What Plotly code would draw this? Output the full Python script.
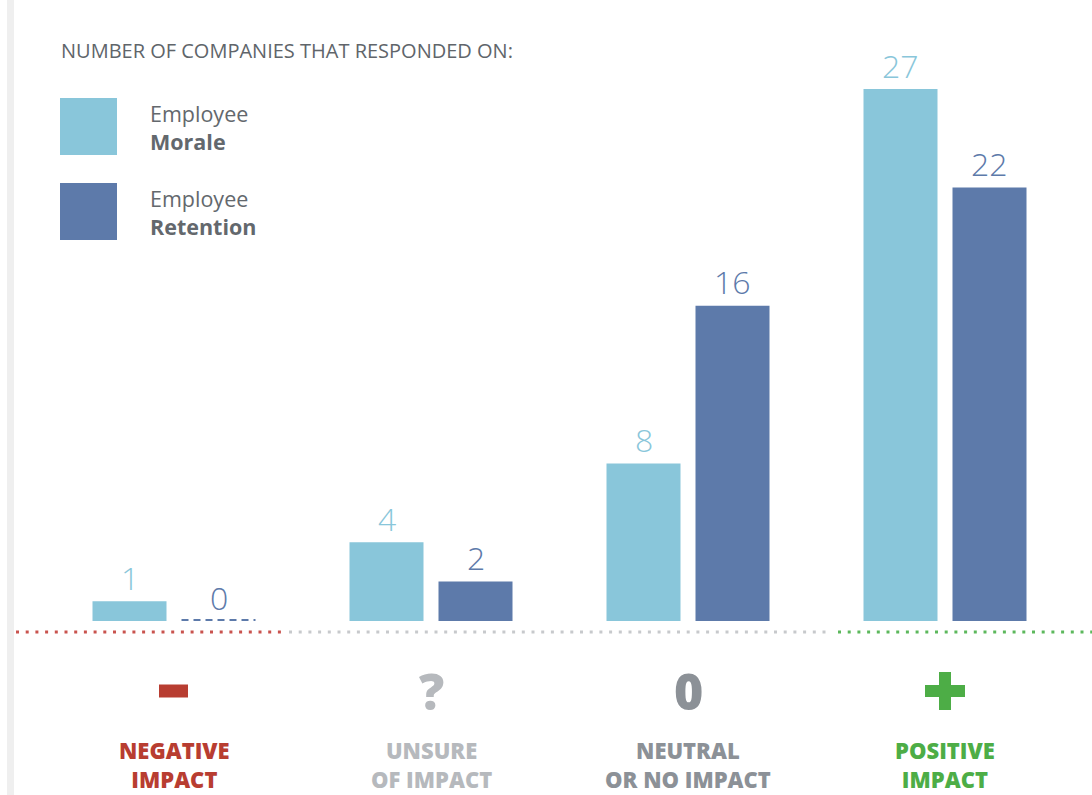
import plotly.graph_objects as go

# ---- data ----
categories = ["NEGATIVE IMPACT", "UNSURE OF IMPACT", "NEUTRAL OR NO IMPACT", "POSITIVE IMPACT"]
label_lines = [["NEGATIVE", "IMPACT"], ["UNSURE", "OF IMPACT"], ["NEUTRAL", "OR NO IMPACT"], ["POSITIVE", "IMPACT"]]
morale = [1, 4, 8, 27]
retention = [0, 2, 16, 22]
series_names = [("Employee", "Morale"), ("Employee", "Retention")]
title_text = "NUMBER OF COMPANIES THAT RESPONDED ON:"

# ---- styling ----
W, H = 1092, 795
MORALE_C = "#89c6da"
RETENTION_C = "#5d7aaa"
CAT_COLORS = ["#b83d31", "#b6b9bd", "#8c9197", "#4dad46"]
DOT_COLORS = ["#c9534e", "#c7c9cc", "#5cb85c"]
FONT = "Open Sans"

# pixel geometry helpers (layout is built on a pixel grid)
BASE_PX = 621.0        # row of the zero line
PX_PER_UNIT = 19.7     # pixels per company
FIRST_PX = 174.0       # centre of the first category group
STEP_PX = 257.0        # distance between category groups
BAR_PX = 74.0
GAP_PX = 15.0


def xd(px):
    return (px - FIRST_PX) / STEP_PX


def yd(py):
    return (BASE_PX - py) / PX_PER_UNIT


def yp(py):
    return 1 - py / H


def xp(px):
    return px / W


idx = list(range(len(categories)))
bw = BAR_PX / STEP_PX
off_m = -(BAR_PX + GAP_PX / 2) / STEP_PX
off_r = (GAP_PX / 2) / STEP_PX

fig = go.Figure()
fig.add_trace(go.Bar(x=idx, y=morale, width=bw, offset=off_m,
                     marker=dict(color=MORALE_C, line_width=0), name="Morale",
                     hoverinfo="skip"))
fig.add_trace(go.Bar(x=idx, y=retention, width=bw, offset=off_r,
                     marker=dict(color=RETENTION_C, line_width=0), name="Retention",
                     hoverinfo="skip"))

shapes = []
annotations = []

# value labels above the bars; zero values drawn as dashed stubs
for series, off, col in ((morale, off_m, MORALE_C), (retention, off_r, RETENTION_C)):
    for i, v in zip(idx, series):
        cx = i + off + bw / 2
        annotations.append(dict(x=cx, y=v, xref="x", yref="y", text=str(v),
                                showarrow=False, yanchor="middle", yshift=24,
                                font=dict(family=FONT, size=32, color=col, weight=300)))
        if v == 0:
            shapes.append(dict(type="line", xref="x", yref="y",
                               x0=i + off, x1=i + off + bw, y0=yd(620), y1=yd(620),
                               line=dict(color=col, width=2, dash="7px,5px")))

# light strip along the left edge
shapes.append(dict(type="rect", xref="paper", yref="paper", x0=xp(7), x1=xp(14), y0=0, y1=1,
                   fillcolor="#efefef", line_width=0, layer="below"))

# dotted base line in three colours
for (a, b), c in zip([(16, 282), (289, 830), (838, 1092)], DOT_COLORS):
    shapes.append(dict(type="line", xref="paper", yref="paper", x0=xp(a), x1=xp(b),
                       y0=yp(632), y1=yp(632),
                       line=dict(color=c, width=3, dash="3px,6.7px")))

# category icons
ICON_PY = 691
# minus
shapes.append(dict(type="rect", xref="x", yref="y", xsizemode="pixel", ysizemode="pixel",
                   xanchor=0, yanchor=yd(ICON_PY), x0=-15, x1=14, y0=-6.5, y1=6.5,
                   fillcolor=CAT_COLORS[0], line_width=0))
# plus
shapes.append(dict(type="rect", xref="x", yref="y", xsizemode="pixel", ysizemode="pixel",
                   xanchor=3, yanchor=yd(ICON_PY), x0=-20, x1=20, y0=-6, y1=6,
                   fillcolor=CAT_COLORS[3], line_width=0))
shapes.append(dict(type="rect", xref="x", yref="y", xsizemode="pixel", ysizemode="pixel",
                   xanchor=3, yanchor=yd(ICON_PY), x0=-6, x1=6, y0=-19, y1=19,
                   fillcolor=CAT_COLORS[3], line_width=0))
for i, sym in ((1, "?"), (2, "0")):
    annotations.append(dict(x=i, y=yp(ICON_PY), xref="x", yref="paper", text=sym,
                            showarrow=False, yanchor="middle",
                            font=dict(family=FONT, size=50, color=CAT_COLORS[i], weight=800)))

# category labels (two lines each)
for i, lines in enumerate(label_lines):
    annotations.append(dict(x=i, y=yp(764), xref="x", yref="paper", text="<br>".join(lines),
                            showarrow=False, yanchor="middle", align="center",
                            font=dict(family=FONT, size=22, color=CAT_COLORS[i], weight=800)))

# heading
annotations.append(dict(x=xp(59), y=yp(51), xref="paper", yref="paper", text=title_text,
                        showarrow=False, xanchor="left", yanchor="middle",
                        font=dict(family=FONT, size=20, color="#60656a")))

# key
for k, ((top, bold), col) in enumerate(zip(series_names, (MORALE_C, RETENTION_C))):
    y0 = 98 + 85 * k
    shapes.append(dict(type="rect", xref="paper", yref="paper", x0=xp(60), x1=xp(117),
                       y0=yp(y0 + 57), y1=yp(y0), fillcolor=col, line_width=0))
    annotations.append(dict(x=xp(148), y=yp(y0 + 30), xref="paper", yref="paper",
                            text=f"{top}<br><b>{bold}</b>",
                            showarrow=False, xanchor="left", yanchor="middle", align="left",
                            font=dict(family=FONT, size=21.5, color="#63686d", weight=400)))

fig.update_layout(
    width=W, height=H, autosize=False,
    margin=dict(l=0, r=0, t=0, b=0),
    paper_bgcolor="white", plot_bgcolor="white",
    showlegend=False, barmode="overlay",
    xaxis=dict(range=[xd(0), xd(W)], visible=False, fixedrange=True),
    yaxis=dict(range=[yd(H), yd(0)], visible=False, fixedrange=True),
    shapes=shapes, annotations=annotations,
)

fig.write_html("out.html", config={"displayModeBar": False})
